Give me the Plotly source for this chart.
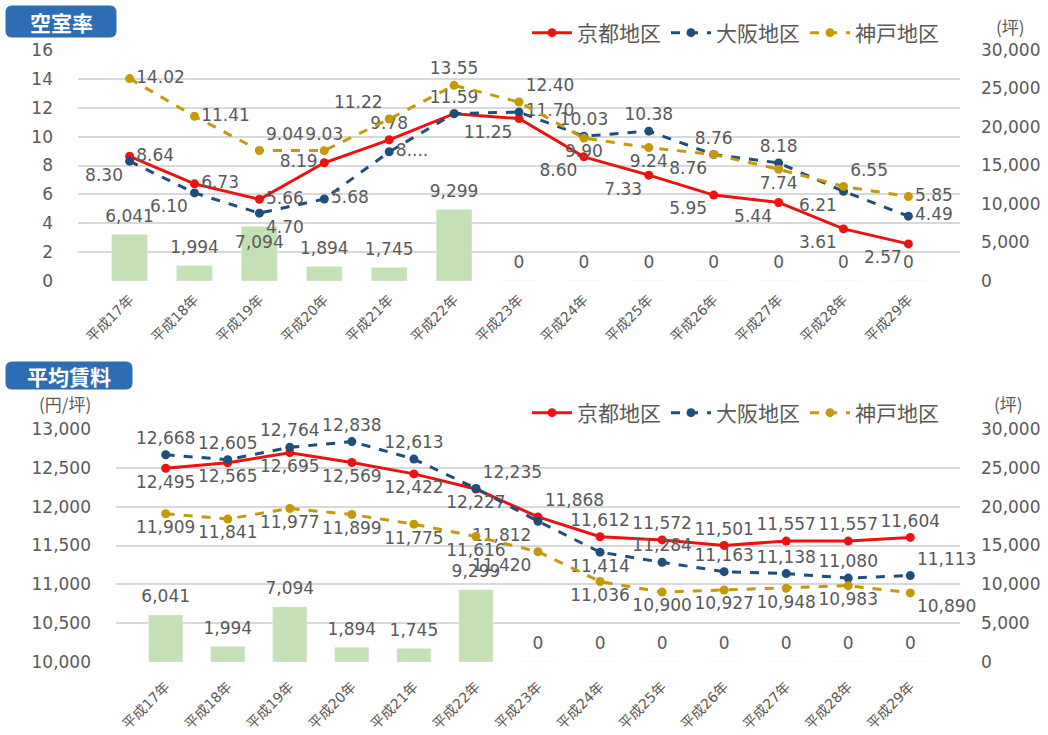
import plotly.graph_objects as go

years = ["平成17年", "平成18年", "平成19年", "平成20年", "平成21年", "平成22年", "平成23年",
         "平成24年", "平成25年", "平成26年", "平成27年", "平成28年", "平成29年"]

supply = [6041, 1994, 7094, 1894, 1745, 9299, 0, 0, 0, 0, 0, 0, 0]

vac_kyoto = [8.64, 6.73, 5.66, 8.19, 9.78, 11.59, 11.25, 8.60, 7.33, 5.95, 5.44, 3.61, 2.57]
vac_osaka = [8.30, 6.10, 4.70, 5.68, 8.95, 11.59, 11.70, 10.03, 10.38, 8.76, 8.18, 6.21, 4.49]
vac_kobe = [14.02, 11.41, 9.04, 9.03, 11.22, 13.55, 12.40, 9.90, 9.24, 8.76, 7.74, 6.55, 5.85]

rent_kyoto = [12495, 12565, 12695, 12569, 12422, 12227, 11868, 11612, 11572, 11501, 11557, 11557, 11604]
rent_osaka = [12668, 12605, 12764, 12838, 12613, 12235, 11812, 11414, 11284, 11163, 11138, 11080, 11113]
rent_kobe = [11909, 11841, 11977, 11899, 11775, 11616, 11420, 11036, 10900, 10927, 10948, 10983, 10890]

names = ["京都地区", "大阪地区", "神戸地区"]

RED = "#ee1111"
BLUE = "#1f4e79"
GOLD = "#c49a0a"
BARC = "#c5e0b4"
GRID = "#d9d9d9"
TXT = "#595959"
FONT = "Noto Sans CJK JP"
NUMF = "DejaVu Sans, Noto Sans CJK JP"

W, H = 1048, 735
def px(x): return x / W
def py(y): return 1 - y / H

# text positions (style)
pos_vk = ["middle right", "middle right", "middle right", "middle left", "top center", "top center",
          "bottom left", "bottom left", "bottom left", "bottom left", "bottom left", "bottom left", "bottom left"]
pos_vo = ["bottom left", "bottom left", "bottom right", "middle right", "middle right", "top center",
          "middle right", "top center", "top center", "top center", "top center", "bottom left", "middle right"]
pos_vb = ["middle right", "middle right", "top right", "top center", "top left", "top center",
          "top right", "bottom center", "bottom center", "bottom left", "bottom center", "top right", "middle right"]

pos_rk = ["bottom center"] * 6 + ["top right"] + ["top center"] * 6
pos_ro = ["top center"] * 5 + ["top right", "bottom left", "bottom center", "top center",
                               "top center", "top center", "top center", "top right"]
pos_rb = ["bottom center"] * 6 + ["bottom left"] + ["bottom center"] * 5 + ["bottom right"]

txt_vk = [f"{v:.2f}" for v in vac_kyoto]
txt_vo = [f"{v:.2f}" for v in vac_osaka]
txt_vo[4] = "8...."
txt_vo[5] = ""
txt_vb = [f"{v:.2f}" for v in vac_kobe]

fig = go.Figure()

LBL = dict(family=NUMF, size=17, color=TXT)

# ---- top: vacancy ----
fig.add_trace(go.Bar(x=years, y=supply, marker_color=BARC, width=0.55, xaxis="x", yaxis="y",
                     showlegend=False, hoverinfo="skip"))
bar_pos_top = ["top center"] * 13
bar_pos_top[2] = "bottom center"
fig.add_trace(go.Scatter(x=years, y=supply, mode="markers+text", text=[f"{v:,}" for v in supply],
                         marker=dict(size=12, color="rgba(0,0,0,0)"),
                         textposition=bar_pos_top, textfont=LBL, xaxis="x", yaxis="y",
                         showlegend=False, hoverinfo="skip", cliponaxis=False))

series_top = [(vac_kyoto, RED, "solid", txt_vk, pos_vk),
              (vac_osaka, BLUE, "dash", txt_vo, pos_vo),
              (vac_kobe, GOLD, "dash", txt_vb, pos_vb)]
for i, (vals, col, dash, txt, pos) in enumerate(series_top):
    fig.add_trace(go.Scatter(x=years, y=vals, name=names[i], mode="lines+markers+text",
                             line=dict(color=col, width=3, dash=dash),
                             marker=dict(color=col, size=9),
                             text=txt, textposition=pos, textfont=LBL,
                             xaxis="x", yaxis="y2", legend="legend", cliponaxis=False))

# ---- bottom: rent ----
fig.add_trace(go.Bar(x=years, y=supply, marker_color=BARC, width=0.55, xaxis="x2", yaxis="y3",
                     showlegend=False, hoverinfo="skip"))
fig.add_trace(go.Scatter(x=years, y=supply, mode="markers+text", text=[f"{v:,}" for v in supply],
                         marker=dict(size=12, color="rgba(0,0,0,0)"),
                         textposition="top center", textfont=LBL, xaxis="x2", yaxis="y3",
                         showlegend=False, hoverinfo="skip", cliponaxis=False))

series_bot = [(rent_kyoto, RED, "solid", pos_rk),
              (rent_osaka, BLUE, "dash", pos_ro),
              (rent_kobe, GOLD, "dash", pos_rb)]
for i, (vals, col, dash, pos) in enumerate(series_bot):
    fig.add_trace(go.Scatter(x=years, y=vals, name=names[i], mode="lines+markers+text",
                             line=dict(color=col, width=3, dash=dash),
                             marker=dict(color=col, size=9),
                             text=[f"{v:,}" for v in vals], textposition=pos, textfont=LBL,
                             xaxis="x2", yaxis="y4", legend="legend2", cliponaxis=False))

TICKF = dict(family=NUMF, size=17, color=TXT)
XTF = dict(family=NUMF, size=14, color=TXT)

fig.update_layout(
    width=W, height=H,
    margin=dict(l=0, r=0, t=0, b=0),
    paper_bgcolor="white", plot_bgcolor="white",
    font=dict(family=FONT, color=TXT),
    barmode="overlay",
    xaxis=dict(domain=[px(78), px(960)], anchor="y", tickangle=-45, tickfont=XTF,
               showgrid=False, showline=False, ticks="outside", ticklen=4,
               tickcolor="rgba(0,0,0,0)", automargin=False),
    yaxis=dict(domain=[py(281), py(50)], anchor="x", side="right", range=[0, 30000],
               dtick=5000, tickformat=",d", tickfont=TICKF, showgrid=False, zeroline=False,
               ticklabelstandoff=20, automargin=False),
    yaxis2=dict(overlaying="y", anchor="x", side="left", range=[0, 16], dtick=2,
                tickfont=TICKF, showgrid=True, gridcolor=GRID, gridwidth=1.5, zeroline=False,
                ticklabelstandoff=24, automargin=False),
    xaxis2=dict(domain=[px(116), px(960)], anchor="y3", tickangle=-45, tickfont=XTF,
                showgrid=False, showline=False, ticks="outside", ticklen=10,
                tickcolor="rgba(0,0,0,0)", automargin=False),
    yaxis3=dict(domain=[py(662), py(429)], anchor="x2", side="right", range=[0, 30000],
                dtick=5000, tickformat=",d", tickfont=TICKF, showgrid=False, zeroline=False,
                ticklabelstandoff=20, automargin=False),
    yaxis4=dict(overlaying="y3", anchor="x2", side="left", range=[10000, 13000], dtick=500,
                tickformat=",d", tickfont=TICKF, showgrid=True, gridcolor=GRID, gridwidth=1.5,
                zeroline=False, ticklabelstandoff=24, automargin=False),
    legend=dict(orientation="h", x=px(944), xanchor="right", y=py(33), yanchor="middle",
                font=dict(family=FONT, size=21, color=TXT), bgcolor="rgba(0,0,0,0)",
                itemwidth=40, tracegroupgap=0),
    legend2=dict(orientation="h", x=px(944), xanchor="right", y=py(413), yanchor="middle",
                 font=dict(family=FONT, size=21, color=TXT), bgcolor="rgba(0,0,0,0)",
                 itemwidth=40, tracegroupgap=0),
    showlegend=True,
)

def rounded_box(x0, y0, x1, y1, r=6):
    X0, X1 = px(x0), px(x1)
    Y0, Y1 = py(y0), py(y1)
    rx, ry = r / W, r / H
    return (f"M {X0+rx},{Y0} L {X1-rx},{Y0} Q {X1},{Y0} {X1},{Y0-ry} "
            f"L {X1},{Y1+ry} Q {X1},{Y1} {X1-rx},{Y1} L {X0+rx},{Y1} "
            f"Q {X0},{Y1} {X0},{Y1+ry} L {X0},{Y0-ry} Q {X0},{Y0} {X0+rx},{Y0} Z")

BOXC = "#2e6db4"
fig.add_shape(type="path", path=rounded_box(6, 6, 116, 37), xref="paper", yref="paper",
              fillcolor=BOXC, line=dict(color=BOXC, width=1))
fig.add_shape(type="path", path=rounded_box(6, 362, 132, 389), xref="paper", yref="paper",
              fillcolor=BOXC, line=dict(color=BOXC, width=1))

ann = [
    dict(text="<b>空室率</b>", x=px(61), y=py(22), font=dict(family=FONT, size=21, color="white")),
    dict(text="<b>平均賃料</b>", x=px(69), y=py(376), font=dict(family=FONT, size=21, color="white")),
    dict(text="(坪)", x=px(1010), y=py(26), font=dict(family=FONT, size=17, color=TXT)),
    dict(text="(坪)", x=px(1008), y=py(403), font=dict(family=FONT, size=17, color=TXT)),
    dict(text="(円/坪)", x=px(65), y=py(403), font=dict(family=FONT, size=17, color=TXT)),
]
for a in ann:
    fig.add_annotation(xref="paper", yref="paper", showarrow=False, xanchor="center",
                       yanchor="middle", **a)

fig.write_html("out.html")
